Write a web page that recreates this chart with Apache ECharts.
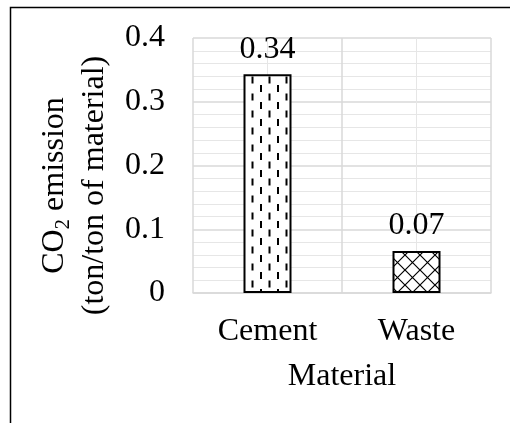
<!DOCTYPE html>
<html>
<head>
<meta charset="utf-8">
<script src="https://cdn.jsdelivr.net/npm/echarts@6/dist/echarts.min.js"></script>
<style>
  html, body { margin: 0; padding: 0; background: #fff; }
  #chart { width: 510px; height: 423px; }
</style>
</head>
<body>
<div id="chart"></div>
<script>
// 数据
const categories = ['Cement', 'Waste']
const emissions = [0.343, 0.066]
const yTicks = [0, 0.1, 0.2, 0.3, 0.4]

const serif = 'Liberation Serif'
const fs = 32 // 字号

// 竖直虚线填充
function dashPattern () {
    const c = document.createElement('canvas')
    c.width = 17
    c.height = 17
    const ctx = c.getContext('2d')
    ctx.fillStyle = '#fff'
    ctx.fillRect(0, 0, 17, 17)
    ctx.fillStyle = '#000'
    ctx.fillRect(5, 0, 2, 7)
    ctx.fillRect(13.5, 8.5, 2, 7)
    return c
}

// 交叉斜线填充
function crossPattern () {
    const s = 15
    const c = document.createElement('canvas')
    c.width = s
    c.height = s
    const ctx = c.getContext('2d')
    ctx.fillStyle = '#fff'
    ctx.fillRect(0, 0, s, s)
    ctx.strokeStyle = '#000'
    ctx.lineWidth = 1.2
    ctx.beginPath()
    ctx.moveTo(0, 0); ctx.lineTo(s, s)
    ctx.moveTo(s, 0); ctx.lineTo(0, s)
    ctx.stroke()
    return c
}

const patterns = [dashPattern(), crossPattern()]

let myChart = echarts.init(document.getElementById('chart'))
myChart.setOption({
    animation: false,
    textStyle: { fontFamily: serif, color: '#000' },
    graphic: [{
        type: 'rect',
        shape: { x: 10.5, y: 7.5, width: 600, height: 500 },
        style: { fill: null, stroke: '#000', lineWidth: 1.5 },
        silent: true
    }],
    grid: { left: 193, right: 19, top: 38, bottom: 130 },
    xAxis: [
        {
            type: 'category',
            data: categories,
            name: 'Material',
            nameLocation: 'middle',
            nameGap: 68,
            nameTextStyle: { fontSize: fs, fontFamily: serif, color: '#000' },
            axisLine: { lineStyle: { color: '#d9d9d9', width: 1.5 } },
            axisTick: { show: false },
            axisLabel: { fontSize: fs, fontFamily: serif, color: '#000', margin: 23 },
            splitLine: { show: false }
        },
        {
            // 网格竖线
            type: 'value',
            min: 0,
            max: 2,
            interval: 1,
            position: 'bottom',
            axisLine: { show: false },
            axisTick: { show: false },
            axisLabel: { show: false },
            splitLine: { show: true, lineStyle: { color: '#d9d9d9', width: 1.5 } },
            minorTick: { show: false, splitNumber: 2 },
            minorSplitLine: { show: true, lineStyle: { color: '#e6e6e6', width: 1 } }
        }
    ],
    yAxis: {
        type: 'value',
        min: yTicks[0],
        max: yTicks[yTicks.length - 1],
        interval: 0.1,
        name: '{n|CO}{s|2}{n| emission}\n{n|(ton/ton of material)}',
        nameLocation: 'middle',
        nameRotate: 90,
        nameGap: 78,
        nameTextStyle: {
            fontSize: fs,
            fontFamily: serif,
            color: '#000',
            lineHeight: 40,
            padding: [0, 40, 0, 0],
            rich: {
                n: { fontSize: fs, fontFamily: serif, color: '#000', lineHeight: 40 },
                s: { fontSize: 21, fontFamily: serif, color: '#000', lineHeight: 40, verticalAlign: 'bottom', padding: [13, 0, 0, 0] }
            }
        },
        axisLine: { show: false },
        axisTick: { show: false },
        axisLabel: {
            fontSize: fs,
            fontFamily: serif,
            color: '#000',
            margin: 28,
            formatter: function (v) { return String(Math.round(v * 10) / 10) }
        },
        splitLine: { show: true, lineStyle: { color: '#d9d9d9', width: 1.5 } },
        minorTick: { show: false, splitNumber: 5 },
        minorSplitLine: { show: true, lineStyle: { color: '#e6e6e6', width: 1 } }
    },
    series: [{
        type: 'bar',
        barWidth: 48,
        data: emissions.map(function (v, i) {
            return {
                value: v,
                itemStyle: {
                    color: { image: patterns[i], repeat: 'repeat' },
                    borderColor: '#000',
                    borderWidth: 2
                }
            }
        }),
        label: {
            show: true,
            position: 'top',
            distance: 9,
            fontSize: fs,
            fontFamily: serif,
            color: '#000',
            formatter: function (p) { return p.value.toFixed(2) }
        }
    }]
})
window.addEventListener('resize', function () {
    myChart.resize()
})
</script>
</body>
</html>
